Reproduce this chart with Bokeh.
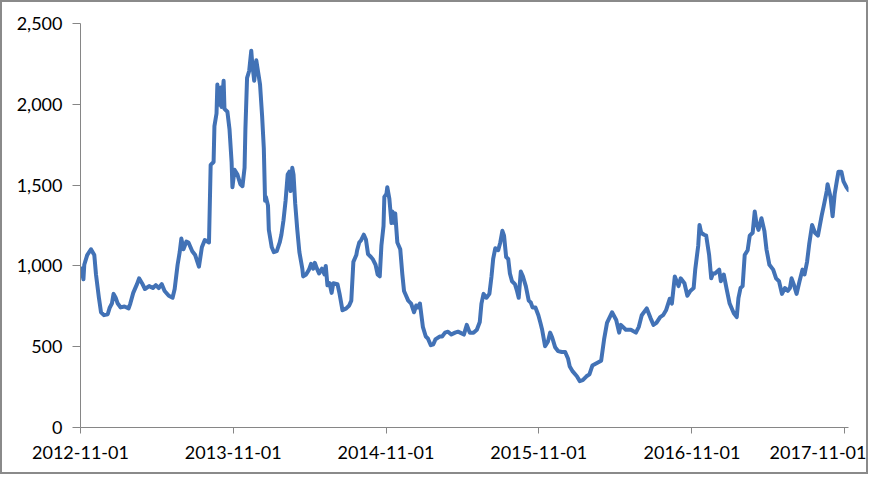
import pandas as pd
from bokeh.plotting import figure
from bokeh.models import Range1d, FixedTicker, DatetimeTickFormatter, NumeralTickFormatter, ColumnDataSource
from bokeh.embed import file_html
from bokeh.resources import INLINE

# ---- data ----
dates = [
    "2012-11-03", "2012-11-08", "2012-11-10", "2012-11-17", "2012-11-26", "2012-12-04", "2012-12-08",
    "2012-12-15", "2012-12-20", "2012-12-27", "2013-01-05", "2013-01-10", "2013-01-15", "2013-01-19",
    "2013-01-24", "2013-01-29", "2013-02-05", "2013-02-14", "2013-02-24", "2013-02-28", "2013-03-07",
    "2013-03-16", "2013-03-21", "2013-03-28", "2013-04-04", "2013-04-14", "2013-04-23", "2013-04-30",
    "2013-05-07", "2013-05-14", "2013-05-21", "2013-05-31", "2013-06-09", "2013-06-14", "2013-06-21",
    "2013-06-26", "2013-06-30", "2013-07-05", "2013-07-12", "2013-07-17", "2013-07-26", "2013-08-02",
    "2013-08-11", "2013-08-18", "2013-08-25", "2013-09-04", "2013-09-08", "2013-09-15", "2013-09-17",
    "2013-09-22", "2013-09-24", "2013-09-26", "2013-10-02", "2013-10-04", "2013-10-09", "2013-10-11",
    "2013-10-18", "2013-10-23", "2013-10-28", "2013-10-30", "2013-11-04", "2013-11-11", "2013-11-18",
    "2013-11-23", "2013-11-28", "2013-11-30", "2013-12-04", "2013-12-09", "2013-12-14", "2013-12-16",
    "2013-12-21", "2013-12-26", "2013-12-30", "2014-01-04", "2014-01-09", "2014-01-13", "2014-01-16",
    "2014-01-18", "2014-01-23", "2014-01-25", "2014-02-01", "2014-02-06", "2014-02-13", "2014-02-20",
    "2014-02-24", "2014-03-01", "2014-03-06", "2014-03-11", "2014-03-15", "2014-03-18", "2014-03-22",
    "2014-03-25", "2014-03-29", "2014-04-03", "2014-04-08", "2014-04-15", "2014-04-17", "2014-04-24",
    "2014-05-01", "2014-05-06", "2014-05-11", "2014-05-15", "2014-05-20", "2014-05-25", "2014-06-01",
    "2014-06-07", "2014-06-10", "2014-06-14", "2014-06-19", "2014-06-24", "2014-06-28", "2014-07-08",
    "2014-07-13", "2014-07-20", "2014-07-29", "2014-08-05", "2014-08-10", "2014-08-15", "2014-08-22",
    "2014-08-24", "2014-08-29", "2014-09-02", "2014-09-09", "2014-09-14", "2014-09-19", "2014-09-26",
    "2014-09-30", "2014-10-07", "2014-10-12", "2014-10-17", "2014-10-21", "2014-10-26", "2014-10-28",
    "2014-11-02", "2014-11-04", "2014-11-09", "2014-11-14", "2014-11-16", "2014-11-21", "2014-11-23",
    "2014-11-28", "2014-12-05", "2014-12-10", "2014-12-14", "2014-12-24", "2014-12-31", "2015-01-07",
    "2015-01-12", "2015-01-16", "2015-01-21", "2015-01-28", "2015-02-04", "2015-02-09", "2015-02-16",
    "2015-02-22", "2015-02-27", "2015-03-09", "2015-03-15", "2015-03-22", "2015-03-29", "2015-04-06",
    "2015-04-15", "2015-04-22", "2015-04-27", "2015-05-06", "2015-05-13", "2015-05-20", "2015-05-29",
    "2015-06-06", "2015-06-13", "2015-06-17", "2015-06-22", "2015-06-29", "2015-07-06", "2015-07-11",
    "2015-07-15", "2015-07-20", "2015-07-27", "2015-08-01", "2015-08-06", "2015-08-10", "2015-08-15",
    "2015-08-20", "2015-08-24", "2015-08-29", "2015-09-05", "2015-09-10", "2015-09-14", "2015-09-19",
    "2015-09-24", "2015-10-01", "2015-10-08", "2015-10-13", "2015-10-17", "2015-10-24", "2015-10-31",
    "2015-11-05", "2015-11-09", "2015-11-16", "2015-11-23", "2015-11-28", "2015-12-03", "2015-12-10",
    "2015-12-17", "2015-12-26", "2016-01-03", "2016-01-10", "2016-01-14", "2016-01-21", "2016-01-31",
    "2016-02-07", "2016-02-14", "2016-02-23", "2016-03-01", "2016-03-08", "2016-03-29", "2016-04-05",
    "2016-04-12", "2016-04-24", "2016-05-04", "2016-05-11", "2016-05-15", "2016-05-27", "2016-06-08",
    "2016-06-20", "2016-06-27", "2016-07-04", "2016-07-16", "2016-07-25", "2016-08-01", "2016-08-08",
    "2016-08-17", "2016-08-24", "2016-08-31", "2016-09-09", "2016-09-14", "2016-09-21", "2016-09-30",
    "2016-10-05", "2016-10-14", "2016-10-21", "2016-10-28", "2016-11-05", "2016-11-09", "2016-11-16",
    "2016-11-19", "2016-11-23", "2016-11-30", "2016-12-05", "2016-12-12", "2016-12-17", "2016-12-21",
    "2016-12-26", "2017-01-05", "2017-01-09", "2017-01-16", "2017-01-23", "2017-01-30", "2017-02-09",
    "2017-02-16", "2017-02-20", "2017-02-25", "2017-03-02", "2017-03-07", "2017-03-14", "2017-03-19",
    "2017-03-26", "2017-03-31", "2017-04-04", "2017-04-09", "2017-04-16", "2017-04-23", "2017-04-28",
    "2017-05-05", "2017-05-14", "2017-05-21", "2017-05-28", "2017-06-04", "2017-06-11", "2017-06-18",
    "2017-06-23", "2017-06-27", "2017-07-02", "2017-07-09", "2017-07-16", "2017-07-23", "2017-07-28",
    "2017-08-03", "2017-08-08", "2017-08-15", "2017-08-22", "2017-08-29", "2017-09-07", "2017-09-12",
    "2017-09-19", "2017-09-21", "2017-09-28", "2017-10-03", "2017-10-08", "2017-10-13", "2017-10-17",
    "2017-10-24", "2017-10-29", "2017-11-05", "2017-11-10",
]

values = [
    984, 917, 1007, 1067, 1103, 1067, 947,
    803, 713, 695, 701, 743, 767, 827,
    803, 767, 743, 749, 737, 767, 833,
    887, 923, 893, 857, 875, 863, 881,
    863, 887, 845, 815, 803, 857, 1007,
    1085, 1169, 1103, 1151, 1145, 1091, 1067,
    995, 1115, 1160, 1145, 1625, 1643, 1865,
    1943, 2122, 1996, 2104, 1984, 2146, 1972,
    1954, 1846, 1643, 1487, 1595, 1565, 1505,
    1493, 1607, 1846, 2164, 2206, 2332, 2266,
    2146, 2272, 2206, 2122, 1924, 1727, 1403,
    1427, 1373, 1223, 1115, 1085, 1091, 1145,
    1193, 1283, 1403, 1565, 1583, 1463, 1607,
    1565, 1385, 1223, 1085, 983, 935, 947,
    977, 1013, 983, 1019, 983, 953, 983,
    947, 1000, 880, 893, 833, 893, 887,
    827, 725, 737, 755, 785, 1025, 1067,
    1097, 1145, 1157, 1193, 1163, 1073, 1055,
    1043, 1007, 947, 935, 1127, 1247, 1427,
    1445, 1487, 1415, 1265, 1337, 1265, 1325,
    1145, 1103, 947, 845, 785, 767, 713,
    755, 743, 767, 623, 563, 551, 509,
    515, 545, 563, 563, 587, 593, 575,
    587, 593, 587, 575, 635, 587, 587,
    605, 653, 767, 827, 803, 827, 935,
    1043, 1109, 1097, 1145, 1217, 1187, 1055,
    1043, 953, 905, 887, 845, 803, 965,
    935, 875, 785, 773, 743, 743, 695,
    647, 605, 503, 533, 587, 557, 497,
    473, 467, 467, 425, 377, 347, 317,
    287, 293, 317, 329, 383, 413, 545,
    647, 713, 665, 587, 635, 605, 605,
    587, 623, 695, 737, 677, 635, 647,
    683, 695, 725, 797, 767, 935, 875,
    923, 893, 815, 845, 863, 983, 1127,
    1253, 1205, 1193, 1187, 1067, 923, 953,
    953, 977, 905, 947, 855, 767, 707,
    683, 800, 863, 875, 1067, 1097, 1187,
    1205, 1337, 1265, 1223, 1295, 1217, 1103,
    1007, 977, 923, 905, 827, 863, 845,
    863, 923, 887, 827, 905, 977, 947,
    1025, 1133, 1253, 1205, 1187, 1313, 1373,
    1463, 1505, 1427, 1307, 1445, 1523, 1583,
    1583, 1523, 1487, 1469,
]

x_tick_labels = ["2012-11-01", "2013-11-01", "2014-11-01", "2015-11-01", "2016-11-01", "2017-11-01"]
y_ticks = [0, 500, 1000, 1500, 2000, 2500]
x_start = "2012-11-01"
x_end = "2017-11-10"


def to_ms(s):
    return (pd.Timestamp(s) - pd.Timestamp("1970-01-01")) // pd.Timedelta("1ms")


source = ColumnDataSource(dict(x=pd.to_datetime(dates), y=values))

LINE = "#4272B6"
AXIS = "#868686"
FONT = "Lato"

p = figure(
    width=868, height=474,
    x_axis_type="datetime",
    output_backend="svg", toolbar_location=None,
    x_range=Range1d(to_ms(x_start), to_ms(x_end)),
    y_range=Range1d(0, 2500),
    min_border_left=78, min_border_right=22, min_border_top=21, min_border_bottom=49,
)
p.styles = {"border": "2px solid #8a8a8a"}
p.outline_line_color = None
p.background_fill_color = "white"
p.border_fill_color = "white"
p.xgrid.visible = False
p.ygrid.visible = False

p.line("x", "y", source=source, line_color=LINE, line_width=4, line_join="round", line_cap="round")

xa = p.xaxis[0]
xa.ticker = FixedTicker(ticks=[to_ms(s) for s in x_tick_labels])
fmt = "%Y-%m-%d"
xa.formatter = DatetimeTickFormatter(
    milliseconds=fmt, seconds=fmt, minsec=fmt, minutes=fmt, hourmin=fmt, hours=fmt,
    days=fmt, months=fmt, years=fmt,
)
ya = p.yaxis[0]
ya.ticker = FixedTicker(ticks=y_ticks)
ya.formatter = NumeralTickFormatter(format="0,0")

for ax in (xa, ya):
    ax.axis_line_color = AXIS
    ax.axis_line_width = 1
    ax.major_tick_line_color = AXIS
    ax.major_tick_in = 0
    ax.minor_tick_line_color = None
    ax.major_label_text_font = FONT
    ax.major_label_text_font_size = "18px"
    ax.major_label_text_color = "#000000"

xa.major_tick_out = 6
xa.major_label_standoff = 12
ya.major_tick_out = 8
ya.major_label_standoff = 10

open("out.html", "w").write(file_html(p, INLINE))
